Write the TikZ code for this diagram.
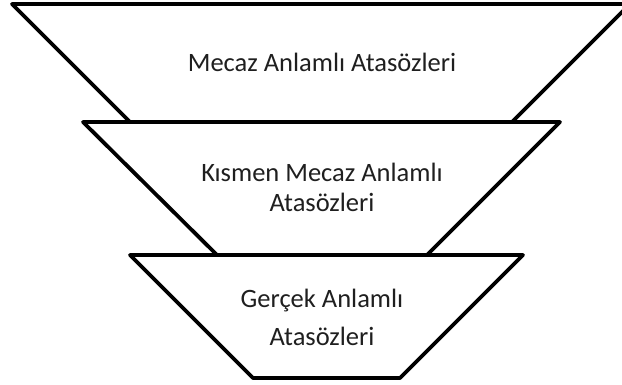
\documentclass[tikz,border=0pt]{standalone}
\usepackage{fontspec}
\setmainfont{Carlito}
\begin{document}
\begin{tikzpicture}[x=1pt,y=-1pt,
  trap/.style={draw=black,fill=white,line width=3.8pt,line join=round},
  lbl/.style={font=\fontsize{26.5}{30}\selectfont,text=black!88,align=center,inner sep=0pt}]
\useasboundingbox (0,0) rectangle (622,385);
\clip (0,0) rectangle (622,385);
\fill[white] (0,0) rectangle (622,385);
\draw[trap] (12,4) -- (630,4) -- (512,122) -- (130,122) -- cycle;
\draw[trap] (83,122) -- (560,122) -- (427,255) -- (217,255) -- cycle;
\draw[trap] (130,255) -- (523,255) -- (400,378) -- (253,378) -- cycle;
\node[lbl] (top) at (322,62) {Mecaz Anlamlı Atasözleri};
\node[lbl,font=\fontsize{26.5}{30}\selectfont] (mid) at (322,187) {Kısmen Mecaz Anlamlı\\Atasözleri};
\node[lbl,font=\fontsize{26.5}{38}\selectfont] (bot) at (322,317) {Gerçek Anlamlı\\Atasözleri};
\end{tikzpicture}
\end{document}
